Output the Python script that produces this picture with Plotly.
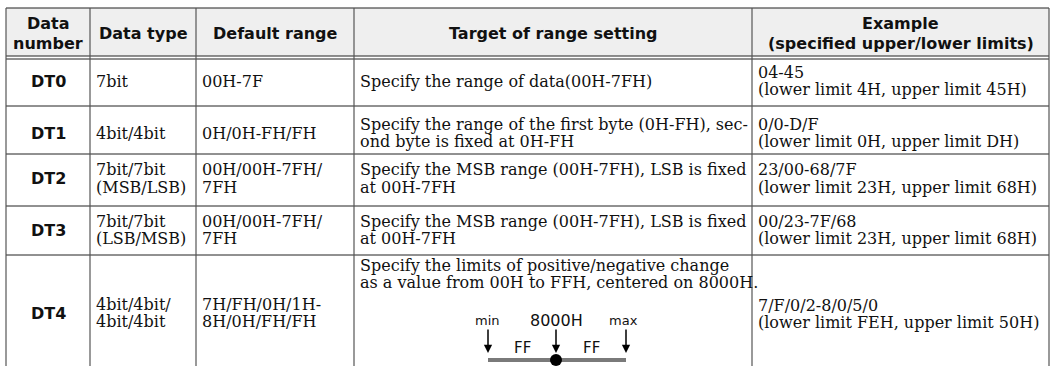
import plotly.graph_objects as go

# ---------------- data ----------------
headers = ["Data\nnumber", "Data type", "Default range", "Target of range setting",
           "Example\n(specified upper/lower limits)"]
data_numbers = ["DT0", "DT1", "DT2", "DT3", "DT4"]
data_types = ["7bit", "4bit/4bit", "7bit/7bit\n(MSB/LSB)", "7bit/7bit\n(LSB/MSB)",
              "4bit/4bit/\n4bit/4bit"]
default_ranges = ["00H-7F", "0H/0H-FH/FH", "00H/00H-7FH/\n7FH", "00H/00H-7FH/\n7FH",
                  "7H/FH/0H/1H-\n8H/0H/FH/FH"]
targets = [
    "Specify the range of data(00H-7FH)",
    "Specify the range of the first byte (0H-FH), sec-\nond byte is fixed at 0H-FH",
    "Specify the MSB range (00H-7FH), LSB is fixed\nat 00H-7FH",
    "Specify the MSB range (00H-7FH), LSB is fixed\nat 00H-7FH",
    "Specify the limits of positive/negative change\nas a value from 00H to FFH, centered on 8000H.",
]
examples = [
    "04-45\n(lower limit 4H, upper limit 45H)",
    "0/0-D/F\n(lower limit 0H, upper limit DH)",
    "23/00-68/7F\n(lower limit 23H, upper limit 68H)",
    "00/23-7F/68\n(lower limit 23H, upper limit 68H)",
    "7/F/0/2-8/0/5/0\n(lower limit FEH, upper limit 50H)",
]
diagram_labels = ["min", "8000H", "max"]
diagram_span_labels = ["FF", "FF"]

# ---------------- layout geometry ----------------
W, H = 1055, 366
col_edges = [6, 90, 196, 354, 752, 1049]
head_top, head_bot, head_bot2 = 8, 56, 59
row_edges = [59, 106, 154, 206, 255, 366]
row_text_center = [81, 133, 178.5, 230, 313]
LINE = 17.5
PAD = 4

SANS_B = "DejaVu Sans"
SERIF = "DejaVu Serif"
BODY_SIZE = 16
HEAD_SIZE = 16

fig = go.Figure()
shapes = []
ann = []

def hline(y, x0=col_edges[0], x1=col_edges[-1], w=1, c="#222"):
    shapes.append(dict(type="line", x0=x0, x1=x1, y0=y, y1=y, xref="x", yref="y",
                       line=dict(color=c, width=w)))

def vline(x, y0, y1, w=1.2, c="#555"):
    shapes.append(dict(type="line", x0=x, x1=x, y0=y0, y1=y1, xref="x", yref="y",
                       line=dict(color=c, width=w)))

# header background
shapes.append(dict(type="rect", x0=col_edges[0], x1=col_edges[-1], y0=head_top, y1=head_bot,
                   xref="x", yref="y", fillcolor="#efefef", line=dict(width=0), layer="below"))
hline(head_top, w=1.2)
hline(head_bot, w=1)
hline(head_bot2, w=1)
for y in row_edges[1:-1]:
    hline(y, w=1)
for x in col_edges:
    vline(x, head_top, H)

def text(x, y, s, size, family, anchor="left", bold=False):
    if bold:
        s = "<b>" + s + "</b>"
    ann.append(dict(x=x, y=y, xref="x", yref="y", text=s, showarrow=False,
                    xanchor=anchor, yanchor="middle",
                    font=dict(family=family, size=size, color="#111")))

def multiline(x, yc, s, size, family, anchor="left", bold=False, top=None, step=LINE):
    lines = s.split("\n")
    n = len(lines)
    for i, ln in enumerate(lines):
        if top is None:
            y = yc + (i - (n - 1) / 2) * step
        else:
            y = top + i * step
        text(x, y, ln, size, family, anchor, bold)

# headers
head_c = (head_top + head_bot) / 2 + 1
for i, h in enumerate(headers):
    xc = (col_edges[i] + col_edges[i + 1]) / 2
    multiline(xc, head_c, h, HEAD_SIZE, SANS_B, anchor="center", bold=True, step=20)

# body
for r in range(len(data_numbers)):
    yc = row_text_center[r]
    multiline((col_edges[0] + col_edges[1]) / 2, yc, data_numbers[r], HEAD_SIZE, SANS_B,
              anchor="center", bold=True)
    multiline(col_edges[1] + PAD, yc, data_types[r], BODY_SIZE, SERIF)
    multiline(col_edges[2] + PAD, yc, default_ranges[r], BODY_SIZE, SERIF)
    if r == len(data_numbers) - 1:
        multiline(col_edges[3] + PAD, yc, targets[r], BODY_SIZE, SERIF, top=265)
    else:
        multiline(col_edges[3] + PAD, yc, targets[r], BODY_SIZE, SERIF)
    multiline(col_edges[4] + PAD, yc + (1 if r == 4 else 0), examples[r], BODY_SIZE, SERIF)

# diagram in DT4 target cell
d_left, d_mid, d_right = 488, 556, 626
bar_y = 360
shapes.append(dict(type="line", x0=d_left, x1=d_right, y0=bar_y, y1=bar_y, xref="x", yref="y",
                   line=dict(color="#7a7a7a", width=4)))
shapes.append(dict(type="circle", x0=d_mid - 6, x1=d_mid + 6, y0=bar_y - 6, y1=bar_y + 6,
                   xref="x", yref="y", fillcolor="#000", line=dict(color="#000", width=0)))
for x, lab, sz in zip([d_left - 1, d_mid, d_right - 3], diagram_labels, [13, 16, 13]):
    text(x, 320, lab, sz, "DejaVu Sans", anchor="center")
for x in [d_left, d_mid, d_right]:
    ann.append(dict(x=x, y=353, ax=x, ay=328, xref="x", yref="y", axref="x", ayref="y",
                    text="", showarrow=True, arrowhead=2, arrowsize=1.1, arrowwidth=1.5,
                    arrowcolor="#000"))
for x, lab in zip([(d_left + d_mid) / 2, (d_mid + d_right) / 2], diagram_span_labels):
    text(x, 348, lab, 15, "DejaVu Sans", anchor="center")

fig.update_layout(
    width=W, height=H, margin=dict(l=0, r=0, t=0, b=0),
    paper_bgcolor="white", plot_bgcolor="white",
    xaxis=dict(range=[0, W], visible=False, fixedrange=True),
    yaxis=dict(range=[H, 0], visible=False, fixedrange=True),
    shapes=shapes, annotations=ann, showlegend=False,
)
fig.write_html("out.html", config={"displayModeBar": False, "staticPlot": True},
               post_script="document.body.style.margin='0';document.body.style.overflow='hidden';")
